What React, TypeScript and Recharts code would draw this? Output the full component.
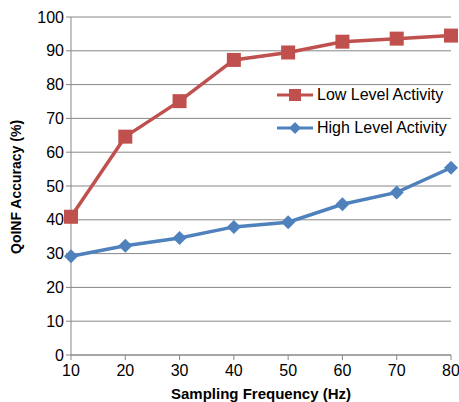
import { CartesianGrid, Line, LineChart, XAxis, YAxis } from "recharts";

const frequencies = [10, 20, 30, 40, 50, 60, 70, 80];
const lowLevel = [40.9, 64.6, 75.1, 87.3, 89.5, 92.7, 93.6, 94.5];
const highLevel = [29.2, 32.3, 34.6, 37.9, 39.3, 44.6, 48.1, 55.4];
const yTicks = [0, 10, 20, 30, 40, 50, 60, 70, 80, 90, 100];

const RED = "#C0504D";
const BLUE = "#4F81BD";
const GRID = "#878787";
const FONT = "'Liberation Sans', Arial, sans-serif";

const data = frequencies.map((f, i) => ({ f, low: lowLevel[i], high: highLevel[i] }));

const Square = (props: any) => {
  const { cx, cy } = props;
  if (cx == null || cy == null) return null;
  return <rect x={cx - 7} y={cy - 7} width={14} height={14} fill={RED} />;
};

const Diamond = (props: any) => {
  const { cx, cy } = props;
  if (cx == null || cy == null) return null;
  return <polygon points={`${cx},${cy - 7} ${cx + 7},${cy} ${cx},${cy + 7} ${cx - 7},${cy}`} fill={BLUE} />;
};

const legendItems = [
  { label: "Low Level Activity", color: RED, shape: "square" },
  { label: "High Level Activity", color: BLUE, shape: "diamond" },
];

// legend sits inside the plot area, over the gridlines
const LegendBox = () => (
  <div
    style={{
      position: "absolute",
      left: 276,
      top: 78,
      fontFamily: FONT,
      fontSize: 16,
      color: "#000",
    }}
  >
    {legendItems.map((item) => (
      <div key={item.label} style={{ display: "flex", alignItems: "center", height: 33 }}>
        <svg width={38} height={16} style={{ marginRight: 3 }}>
          <line x1={1} y1={8} x2={37} y2={8} stroke={item.color} strokeWidth={3} />
          {item.shape === "square" ? (
            <rect x={13} y={2} width={12} height={12} fill={item.color} />
          ) : (
            <polygon points="19,2 25,8 19,14 13,8" fill={item.color} />
          )}
        </svg>
        <span style={{ background: "#fff", paddingRight: 4 }}>{item.label}</span>
      </div>
    ))}
  </div>
);

export default function App() {
  return (
    <div style={{ position: "absolute", left: 0, top: 0, width: 459, height: 402, background: "#fff" }}>
      <LineChart width={459} height={402} data={data} margin={{ top: 17, right: 8, bottom: 0, left: 0 }}>
        <CartesianGrid vertical={false} stroke={GRID} strokeWidth={1} />
        <XAxis
          dataKey="f"
          type="number"
          domain={[10, 80]}
          ticks={frequencies}
          height={47}
          stroke={GRID}
          tickSize={5}
          tick={{ fill: "#000", fontSize: 16, fontFamily: FONT, dy: 3 }}
          label={{
            value: "Sampling Frequency (Hz)",
            position: "insideBottom",
            offset: 3,
            fill: "#000",
            fontSize: 15,
            fontWeight: "bold",
            fontFamily: FONT,
          }}
        />
        <YAxis
          type="number"
          domain={[0, 100]}
          ticks={yTicks}
          width={71}
          stroke={GRID}
          tickSize={5}
          tick={{ fill: "#000", fontSize: 16, fontFamily: FONT }}
          label={{
            value: "QoINF Accuracy (%)",
            angle: -90,
            position: "insideLeft",
            offset: 16,
            dy: 68,
            fill: "#000",
            fontSize: 14,
            fontWeight: "bold",
            fontFamily: FONT,
          }}
        />
        <Line
          dataKey="low"
          name="Low Level Activity"
          stroke={RED}
          strokeWidth={3.5}
          dot={<Square />}
          isAnimationActive={false}
        />
        <Line
          dataKey="high"
          name="High Level Activity"
          stroke={BLUE}
          strokeWidth={3.5}
          dot={<Diamond />}
          isAnimationActive={false}
        />
      </LineChart>
      <LegendBox />
    </div>
  );
}
